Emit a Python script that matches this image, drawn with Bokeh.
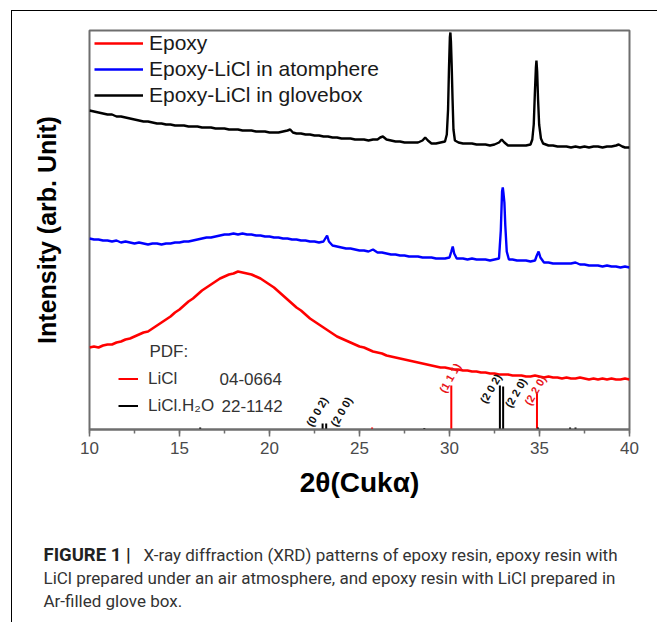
from bokeh.plotting import figure
from bokeh.layouts import column
from bokeh.models import (ColumnDataSource, Range1d, Legend, LegendItem, Label,
                          SingleIntervalTicker, FixedTicker, Div)
from bokeh.embed import file_html
from bokeh.resources import INLINE
from bokeh.core.properties import value

# ---------------- data ----------------
# 2theta (deg) and relative intensity (arb.) of each pattern, offsets included
epoxy_x = [10.00, 10.25, 10.50, 10.75, 11.00, 11.25, 11.50, 11.75, 12.00, 12.25, 12.50, 12.75,
           13.00, 13.25, 13.50, 13.75, 14.00, 14.25, 14.50, 14.75, 15.00, 15.25, 15.50, 15.75,
           16.00, 16.25, 16.50, 16.75, 17.00, 17.25, 17.50, 17.75, 18.00, 18.25, 18.50, 18.75,
           19.00, 19.25, 19.50, 19.75, 20.00, 20.25, 20.50, 20.75, 21.00, 21.25, 21.50, 21.75,
           22.00, 22.25, 22.50, 22.75, 23.00, 23.25, 23.50, 23.75, 24.00, 24.25, 24.50, 24.75,
           25.00, 25.25, 25.50, 25.75, 26.00, 26.25, 26.50, 26.75, 27.00, 27.25, 27.50, 27.75,
           28.00, 28.25, 28.50, 28.75, 29.00, 29.25, 29.50, 29.75, 30.00, 30.25, 30.50, 30.75,
           31.00, 31.25, 31.50, 31.75, 32.00, 32.25, 32.50, 32.75, 33.00, 33.25, 33.50, 33.75,
           34.00, 34.25, 34.50, 34.75, 35.00, 35.25, 35.50, 35.75, 36.00, 36.25, 36.50, 36.75,
           37.00, 37.25, 37.50, 37.75, 38.00, 38.25, 38.50, 38.75, 39.00, 39.25, 39.50, 39.75,
           40.00]
epoxy_y = [82, 83, 82, 84, 85, 85, 87, 88, 90, 91, 93, 95,
           97, 98, 101, 104, 107, 110, 113, 117, 120, 124, 128, 131,
           135, 139, 142, 145, 148, 151, 153, 155, 156, 158, 157, 156,
           155, 153, 151, 148, 145, 142, 138, 134, 130, 126, 122, 119,
           115, 111, 108, 105, 102, 99, 96, 93, 91, 89, 87, 85,
           83, 82, 80, 78, 77, 76, 74, 73, 72, 71, 70, 69,
           68, 67, 66, 65, 64, 63, 62, 62, 61, 60, 60, 59,
           59, 58, 58, 57, 57, 56, 56, 55, 55, 55, 54, 54,
           54, 53, 53, 54, 53, 52, 53, 52, 52, 51, 52, 51,
           51, 52, 51, 50, 51, 50, 51, 50, 51, 50, 50, 51,
           50]

air_x = [10.00, 10.25, 10.50, 10.75, 11.00, 11.25, 11.50, 11.75, 12.00, 12.25, 12.50, 12.75,
         13.00, 13.25, 13.50, 13.75, 14.00, 14.25, 14.50, 14.75, 15.00, 15.25, 15.50, 15.75,
         16.00, 16.25, 16.50, 16.75, 17.00, 17.25, 17.50, 17.75, 18.00, 18.25, 18.50, 18.75,
         19.00, 19.25, 19.50, 19.75, 20.00, 20.25, 20.50, 20.75, 21.00, 21.25, 21.50, 21.75,
         22.00, 22.25, 22.50, 22.75, 23.00, 23.10, 23.20, 23.30, 23.50, 23.75, 24.00, 24.25,
         24.50, 24.75, 25.00, 25.25, 25.50, 25.75, 26.00, 26.25, 26.50, 26.75, 27.00, 27.25,
         27.50, 27.75, 28.00, 28.25, 28.50, 28.75, 29.00, 29.25, 29.50, 29.75, 30.00, 30.10,
         30.18, 30.26, 30.40, 30.75, 31.00, 31.25, 31.50, 31.75, 32.00, 32.25, 32.50, 32.75,
         32.85, 32.92, 32.96, 33.00, 33.05, 33.10, 33.18, 33.30, 33.50, 33.75, 34.00, 34.25,
         34.50, 34.75, 34.85, 34.95, 35.05, 35.25, 35.50, 35.75, 36.00, 36.25, 36.50, 36.75,
         37.00, 37.25, 37.50, 37.75, 38.00, 38.25, 38.50, 38.75, 39.00, 39.25, 39.50, 39.75,
         40.00]
air_y = [191, 190, 190, 189, 189, 188, 189, 187, 188, 187, 186, 187,
         186, 185, 186, 186, 185, 186, 186, 187, 187, 188, 188, 189,
         190, 191, 192, 192, 193, 194, 195, 195, 196, 195, 196, 195,
         195, 194, 194, 193, 193, 192, 192, 191, 191, 190, 190, 189,
         189, 188, 188, 187, 188, 191, 194, 188, 184, 183, 182, 181,
         181, 180, 179, 179, 178, 180, 177, 177, 176, 175, 175, 174,
         174, 173, 173, 173, 172, 172, 172, 171, 171, 171, 172, 178,
         183, 176, 171, 171, 170, 171, 170, 170, 170, 169, 170, 171,
         199, 238, 242, 236, 227, 204, 178, 170, 170, 169, 169, 169,
         168, 169, 174, 178, 172, 167, 167, 166, 166, 166, 166, 166,
         167, 165, 165, 164, 164, 164, 163, 164, 163, 163, 162, 163,
         162]

glove_x = [10.00, 10.25, 10.50, 10.75, 11.00, 11.25, 11.50, 11.75, 12.00, 12.25, 12.50, 12.75,
           13.00, 13.25, 13.50, 13.75, 14.00, 14.25, 14.50, 14.75, 15.00, 15.25, 15.50, 15.75,
           16.00, 16.25, 16.50, 16.75, 17.00, 17.25, 17.50, 17.75, 18.00, 18.25, 18.50, 18.75,
           19.00, 19.25, 19.50, 19.75, 20.00, 20.25, 20.50, 20.75, 21.00, 21.15, 21.30, 21.50,
           21.75, 22.00, 22.25, 22.50, 22.75, 23.00, 23.25, 23.50, 23.75, 24.00, 24.25, 24.50,
           24.75, 25.00, 25.25, 25.50, 25.75, 26.00, 26.15, 26.30, 26.50, 26.75, 27.00, 27.25,
           27.50, 27.75, 28.00, 28.25, 28.50, 28.65, 28.80, 29.00, 29.25, 29.50, 29.75, 29.85,
           29.92, 29.97, 30.02, 30.05, 30.08, 30.12, 30.17, 30.22, 30.30, 30.50, 30.75, 31.00,
           31.25, 31.50, 31.75, 32.00, 32.25, 32.50, 32.75, 32.90, 33.05, 33.25, 33.50, 33.75,
           34.00, 34.25, 34.50, 34.60, 34.68, 34.74, 34.80, 34.83, 34.87, 34.92, 34.98, 35.08,
           35.20, 35.50, 35.75, 36.00, 36.25, 36.50, 36.75, 37.00, 37.25, 37.50, 37.75, 38.00,
           38.25, 38.50, 38.75, 39.00, 39.25, 39.40, 39.60, 39.75, 40.00]
glove_y = [319, 318, 317, 316, 315, 315, 313, 313, 312, 311, 310, 309,
           308, 308, 307, 306, 306, 305, 305, 304, 304, 304, 303, 303,
           303, 302, 302, 302, 301, 301, 301, 300, 300, 300, 299, 299,
           299, 298, 298, 298, 297, 297, 297, 298, 299, 300, 297, 296,
           296, 295, 295, 294, 294, 293, 293, 292, 292, 291, 291, 291,
           290, 290, 290, 289, 290, 290, 292, 293, 290, 289, 288, 288,
           287, 287, 287, 287, 289, 292, 289, 286, 286, 287, 288, 295,
           320, 360, 392, 397, 388, 365, 330, 300, 289, 287, 286, 286,
           286, 285, 285, 285, 284, 285, 287, 290, 287, 284, 284, 284,
           284, 284, 285, 290, 305, 335, 362, 369, 358, 330, 305, 291,
           286, 284, 284, 283, 283, 283, 282, 283, 282, 283, 282, 283,
           283, 282, 283, 283, 284, 285, 283, 282, 282]

# PDF reference sticks
licl_pos = [25.7, 30.1, 34.86]
licl_int = [2, 44, 36]
hydrate_pos = [16.15, 22.95, 23.15, 28.6, 32.8, 32.98, 34.92, 36.7, 37.0]
hydrate_int = [2, 6, 6, 1.5, 44, 43, 2, 2, 2]

# Miller-index labels
hkl_text = ["(1 1 1)", "(2 0 2)", "(2 2 0)", "(2 2 0)", "(0 0 2)", "(2 0 0)"]
hkl_x = [30.02, 32.29, 33.68, 34.76, 22.64, 23.99]
hkl_y = [51.6, 41.0, 36.7, 39.1, 17.8, 17.8]
hkl_color = ["#e8141b", "#111111", "#111111", "#e8141b", "#111111", "#111111"]

series_names = ["Epoxy", "Epoxy-LiCl in atomphere", "Epoxy-LiCl in glovebox"]
x_ticks_interval = 5

caption_bold = "FIGURE 1 |"
caption_lines = [
    "X-ray diffraction (XRD) patterns of epoxy resin, epoxy resin with",
    "LiCl prepared under an air atmosphere, and epoxy resin with LiCl prepared in",
    "Ar-filled glove box.",
]

FONT = "Liberation Sans"
CAP = "Roboto"

# ---------------- chart ----------------
p = figure(width=646, height=504,
           x_range=Range1d(10, 40), y_range=Range1d(0, 399),
           output_backend="svg", toolbar_location=None,
           min_border_left=77, min_border_right=29, min_border_top=19, min_border_bottom=86)
p.grid.visible = False
p.background_fill_color = "white"
p.border_fill_color = "white"
p.outline_line_color = "#6e6e6e"
p.outline_line_width = 2

p.xaxis.ticker = SingleIntervalTicker(interval=x_ticks_interval, num_minor_ticks=2)
p.xaxis.axis_line_color = "#6e6e6e"
p.xaxis.axis_line_width = 2
p.xaxis.major_tick_line_color = "#6e6e6e"
p.xaxis.major_tick_line_width = 1.5
p.xaxis.major_tick_out = 7
p.xaxis.major_tick_in = 0
p.xaxis.minor_tick_line_color = "#6e6e6e"
p.xaxis.minor_tick_line_width = 1.5
p.xaxis.minor_tick_out = 4
p.xaxis.minor_tick_in = 0
p.xaxis.major_label_text_font = FONT
p.xaxis.major_label_text_font_size = "17px"
p.xaxis.major_label_text_color = "#4a4a4a"
p.xaxis.major_label_standoff = 5
p.xaxis.axis_label = "2θ(Cukα)"
p.xaxis.axis_label_text_font = FONT
p.xaxis.axis_label_text_font_style = "bold"
p.xaxis.axis_label_text_font_size = "28px"
p.xaxis.axis_label_text_color = "#000000"
p.xaxis.axis_label_standoff = 10

p.yaxis.ticker = FixedTicker(ticks=[])
p.yaxis.axis_line_color = None
p.yaxis.major_tick_line_color = None
p.yaxis.minor_tick_line_color = None
p.yaxis.axis_label = "Intensity (arb. Unit)"
p.yaxis.axis_label_text_font = FONT
p.yaxis.axis_label_text_font_style = "bold"
p.yaxis.axis_label_text_font_size = "25px"
p.yaxis.axis_label_text_color = "#000000"
p.yaxis.axis_label_standoff = 29

r_epoxy = p.line(epoxy_x, epoxy_y, line_color="#ff0000", line_width=2.6)
r_air = p.line(air_x, air_y, line_color="#0000ff", line_width=2.4)
r_glove = p.line(glove_x, glove_y, line_color="#000000", line_width=2.4)

r_licl = p.segment(x0=licl_pos, y0=[0] * len(licl_pos), x1=licl_pos, y1=licl_int,
                   line_color="#ff0000", line_width=2)
r_hyd = p.segment(x0=hydrate_pos, y0=[0] * len(hydrate_pos), x1=hydrate_pos, y1=hydrate_int,
                  line_color="#000000", line_width=2)

hkl_src = ColumnDataSource(dict(x=hkl_x, y=hkl_y, text=hkl_text, color=hkl_color))
p.text(x="x", y="y", text="text", source=hkl_src, angle=60, angle_units="deg",
       text_color="color", text_font=value(FONT), text_font_style="bold",
       text_font_size="11px", text_align="center", text_baseline="middle")

leg = Legend(items=[LegendItem(label=series_names[0], renderers=[r_epoxy]),
                    LegendItem(label=series_names[1], renderers=[r_air]),
                    LegendItem(label=series_names[2], renderers=[r_glove])],
             location=(5, 321), margin=0, padding=0, spacing=0,
             label_height=26, glyph_height=26, glyph_width=49, label_standoff=6,
             label_text_font=FONT, label_text_font_size="21px", label_text_color="#1a1a1a",
             border_line_color=None, background_fill_alpha=0)
p.add_layout(leg)

leg2 = Legend(items=[LegendItem(label="LiCl", renderers=[r_licl]),
                     LegendItem(label="LiCl.H₂O", renderers=[r_hyd])],
              location=(29, 10), margin=0, padding=0, spacing=0,
              label_height=27, glyph_height=27, glyph_width=20, label_standoff=10,
              label_text_font=FONT, label_text_font_size="17px", label_text_color="#333333",
              border_line_color=None, background_fill_alpha=0)
p.add_layout(leg2)

for txt, lx, ly in [("PDF:", 60, 78), ("04-0664", 130, 51), ("22-1142", 132, 24)]:
    p.add_layout(Label(x=lx, y=ly, x_units="screen", y_units="screen", text=txt,
                       text_font=FONT, text_font_size="17px", text_color="#333333",
                       text_baseline="middle", text_align="left"))

# ---------------- caption ----------------
cap = figure(width=646, height=107, x_range=Range1d(0, 646), y_range=Range1d(0, 107),
             output_backend="svg", toolbar_location=None,
             min_border=0, min_border_left=0, min_border_right=0,
             min_border_top=0, min_border_bottom=0)
cap.axis.visible = False
cap.grid.visible = False
cap.outline_line_color = None
cap.background_fill_color = "white"
cap.border_fill_color = "white"
cap.text(x=[31], y=[68], text=[caption_bold], text_font=value(CAP), text_font_style="bold",
         text_font_size="18.5px", text_color="#222222", text_baseline="middle", text_align="left")
cap.text(x=[131, 31, 31], y=[68, 45, 22], text=caption_lines, text_font=value(CAP),
         text_font_size="17px", text_color="#333333", text_baseline="middle", text_align="left")

try:
    cap.frame_align = False
except Exception:
    pass

# thin black rule forming the top edge of the outer box
top_rule = Div(width=646, height=1, margin=0, styles={"background-color": "#000000"})

layout = column(top_rule, p, cap, spacing=0, margin=(10, 0, 0, 11),
                styles={"border-left": "1px solid #000"})

open("out.html", "w").write(file_html(layout, INLINE))
